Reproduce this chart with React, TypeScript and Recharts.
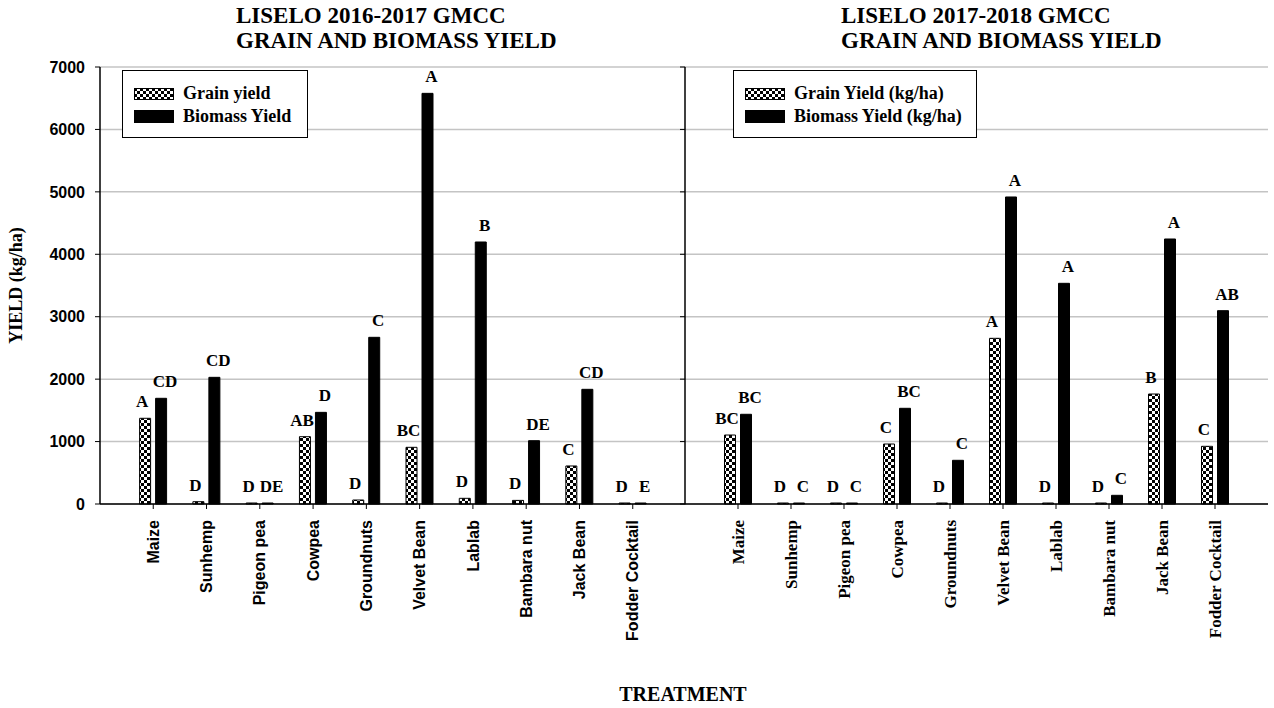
import { BarChart, Bar, XAxis, YAxis, CartesianGrid, LabelList } from 'recharts';

// treatments on the x axis (same for both seasons)
const categories = [
  'Maize',
  'Sunhemp',
  'Pigeon pea',
  'Cowpea',
  'Groundnuts',
  'Velvet Bean',
  'Lablab',
  'Bambara nut',
  'Jack Bean',
  'Fodder Cocktail',
];

// 2016-2017 season (kg/ha)
const grain1617 = [1373, 37, 0, 1078, 64, 908, 91, 58, 609, 0];
const biomass1617 = [1693, 2029, 0, 1468, 2670, 6578, 4197, 1014, 1837, 0];
const grainLetters1617 = ['A', 'D', 'D', 'AB', 'D', 'BC', 'D', 'D', 'C', 'D'];
const biomassLetters1617 = ['CD', 'CD', 'DE', 'D', 'C', 'A', 'B', 'DE', 'CD', 'E'];

// 2017-2018 season (kg/ha)
const grain1718 = [1105, 0, 0, 961, 0, 2654, 0, 15, 1762, 924];
const biomass1718 = [1437, 0, 0, 1533, 700, 4918, 3535, 139, 4245, 3097];
const grainLetters1718 = ['BC', 'D', 'D', 'C', 'D', 'A', 'D', 'D', 'B', 'C'];
const biomassLetters1718 = ['BC', 'C', 'C', 'BC', 'C', 'A', 'A', 'C', 'A', 'AB'];

const yTicks = [0, 1000, 2000, 3000, 4000, 5000, 6000, 7000];

const SERIF = '"Liberation Serif", "Times New Roman", serif';
const SANS = '"Liberation Sans", Arial, sans-serif';

const buildRows = (grain: number[], biomass: number[], gl: string[], bl: string[]) =>
  categories.map((name, i) => ({ name, grain: grain[i], biomass: biomass[i], gl: gl[i], bl: bl[i] }));

const rows1617 = buildRows(grain1617, biomass1617, grainLetters1617, biomassLetters1617);
const rows1718 = buildRows(grain1718, biomass1718, grainLetters1718, biomassLetters1718);

// significance letters sit a little off-centre, as in the original figure
const letterLabel = (shift: number) => (props: any) => {
  const { x, y, width, height, value } = props;
  const top = Math.min(Number(y), Number(y) + Number(height || 0));
  return (
    <text
      x={Number(x) + Number(width) / 2 + shift}
      y={top - 11}
      textAnchor="middle"
      fontFamily={SERIF}
      fontWeight="bold"
      fontSize={17}
      fill="#000"
    >
      {value}
    </text>
  );
};

const makeTick = (family: string, size: number) => (props: any) => {
  const { x, y, payload } = props;
  return (
    <g transform={`translate(${x},${y})`}>
      <text
        transform="rotate(-90)"
        textAnchor="end"
        dy="0.35em"
        fontFamily={family}
        fontWeight="bold"
        fontSize={size}
        fill="#000"
      >
        {payload.value}
      </text>
    </g>
  );
};

interface PanelProps {
  rows: typeof rows1617;
  width: number;
  marginLeft: number;
  marginRight: number;
  yWidth: number;
  showYLabels: boolean;
  tickFamily: string;
  tickSize: number;
  pad: number;
}

function Panel({ rows, width, marginLeft, marginRight, yWidth, showYLabels, tickFamily, tickSize, pad }: PanelProps) {
  return (
    <BarChart
      width={width}
      height={708}
      data={rows}
      margin={{ top: 67, right: marginRight, bottom: 84, left: marginLeft }}
      barSize={11}
      barGap={5}
    >
      <CartesianGrid vertical={false} stroke="#c4c4c4" strokeWidth={1.5} />
      <XAxis
        dataKey="name"
        height={120}
        interval={0}
        padding={{ left: pad, right: pad }}
        tickSize={5}
        tickMargin={11}
        axisLine={{ stroke: '#000', strokeWidth: 1.5 }}
        tickLine={{ stroke: '#000' }}
        tick={makeTick(tickFamily, tickSize)}
      />
      <XAxis
        xAxisId="top"
        dataKey="name"
        orientation="top"
        height={0}
        tick={false}
        tickLine={false}
        axisLine={{ stroke: '#000', strokeWidth: 1.5 }}
      />
      <YAxis
        domain={[0, 7000]}
        ticks={yTicks}
        width={yWidth}
        tickSize={5}
        tickMargin={10}
        axisLine={{ stroke: '#000', strokeWidth: 1.5 }}
        tickLine={{ stroke: '#000' }}
        tickFormatter={showYLabels ? undefined : () => ''}
        tick={{ fontFamily: SANS, fontWeight: 'bold', fontSize: 16, fill: '#000' }}
        label={
          showYLabels
            ? {
                value: 'YIELD (kg/ha)',
                angle: -90,
                position: 'insideLeft',
                offset: 16,
                style: { textAnchor: 'middle', fontFamily: SERIF, fontWeight: 'bold', fontSize: 18, fill: '#000' },
              }
            : undefined
        }
      />
      <YAxis
        yAxisId="right"
        orientation="right"
        mirror
        domain={[0, 7000]}
        ticks={yTicks}
        width={0}
        tickSize={5}
        tickFormatter={() => ''}
        axisLine={{ stroke: '#000', strokeWidth: 1.5 }}
        tickLine={{ stroke: '#000' }}
      />
      <Bar dataKey="grain" fill="url(#checker)" stroke="#000" strokeWidth={1} minPointSize={1} isAnimationActive={false}>
        <LabelList dataKey="gl" content={letterLabel(-3)} />
      </Bar>
      <Bar dataKey="biomass" fill="#000" stroke="#000" strokeWidth={1} minPointSize={1} isAnimationActive={false}>
        <LabelList dataKey="bl" content={letterLabel(4)} />
      </Bar>
    </BarChart>
  );
}

function LegendBox({ left, width, grainLabel, biomassLabel }: { left: number; width: number; grainLabel: string; biomassLabel: string }) {
  const row: React.CSSProperties = { display: 'flex', alignItems: 'center', height: 23 };
  const text: React.CSSProperties = { fontFamily: SERIF, fontWeight: 'bold', fontSize: 18, marginLeft: 9 };
  return (
    <div
      style={{
        position: 'absolute',
        left,
        top: 70,
        width,
        height: 68,
        boxSizing: 'border-box',
        border: '1.5px solid #000',
        background: '#fff',
        padding: '11px 0 0 11px',
      }}
    >
      <div style={row}>
        <svg width={40} height={12}>
          <rect x={0.5} y={0.5} width={39} height={11} fill="url(#checker)" stroke="#000" />
        </svg>
        <span style={text}>{grainLabel}</span>
      </div>
      <div style={row}>
        <svg width={40} height={13}>
          <rect x={0} y={0} width={40} height={13} fill="#000" />
        </svg>
        <span style={text}>{biomassLabel}</span>
      </div>
    </div>
  );
}

const titleStyle: React.CSSProperties = {
  position: 'absolute',
  top: 3,
  fontFamily: SERIF,
  fontWeight: 'bold',
  fontSize: 23,
  lineHeight: '25px',
  whiteSpace: 'nowrap',
};

export default function App() {
  return (
    <div style={{ position: 'absolute', left: 0, top: 0, width: 1274, height: 708, background: '#fff', overflow: 'hidden' }}>
      <svg width={0} height={0} style={{ position: 'absolute' }}>
        <defs>
          <pattern id="checker" width={6} height={6} patternUnits="userSpaceOnUse">
            <rect width={6} height={6} fill="#fff" />
            <rect width={3} height={3} fill="#000" />
            <rect x={3} y={3} width={3} height={3} fill="#000" />
          </pattern>
        </defs>
      </svg>

      <div style={{ ...titleStyle, left: 236 }}>
        LISELO 2016-2017 GMCC
        <br />
        GRAIN AND BIOMASS YIELD
      </div>
      <div style={{ ...titleStyle, left: 841 }}>
        LISELO 2017-2018 GMCC
        <br />
        GRAIN AND BIOMASS YIELD
      </div>

      <div style={{ position: 'absolute', left: 0, top: 0 }}>
        <Panel
          rows={rows1617}
          width={700}
          marginLeft={0}
          marginRight={14}
          yWidth={100}
          showYLabels
          tickFamily={SANS}
          tickSize={16}
          pad={26.6}
        />
      </div>
      <div style={{ position: 'absolute', left: 600, top: 0 }}>
        <Panel
          rows={rows1718}
          width={674}
          marginLeft={75}
          marginRight={6}
          yWidth={10}
          showYLabels={false}
          tickFamily={SERIF}
          tickSize={17}
          pad={26.5}
        />
      </div>

      <LegendBox left={122} width={186} grainLabel="Grain yield" biomassLabel="Biomass Yield" />
      <LegendBox left={733} width={244} grainLabel="Grain Yield (kg/ha)" biomassLabel="Biomass Yield (kg/ha)" />

      <div
        style={{
          position: 'absolute',
          left: 0,
          width: 1366,
          top: 683,
          textAlign: 'center',
          fontFamily: SERIF,
          fontWeight: 'bold',
          fontSize: 20,
        }}
      >
        TREATMENT
      </div>
    </div>
  );
}
